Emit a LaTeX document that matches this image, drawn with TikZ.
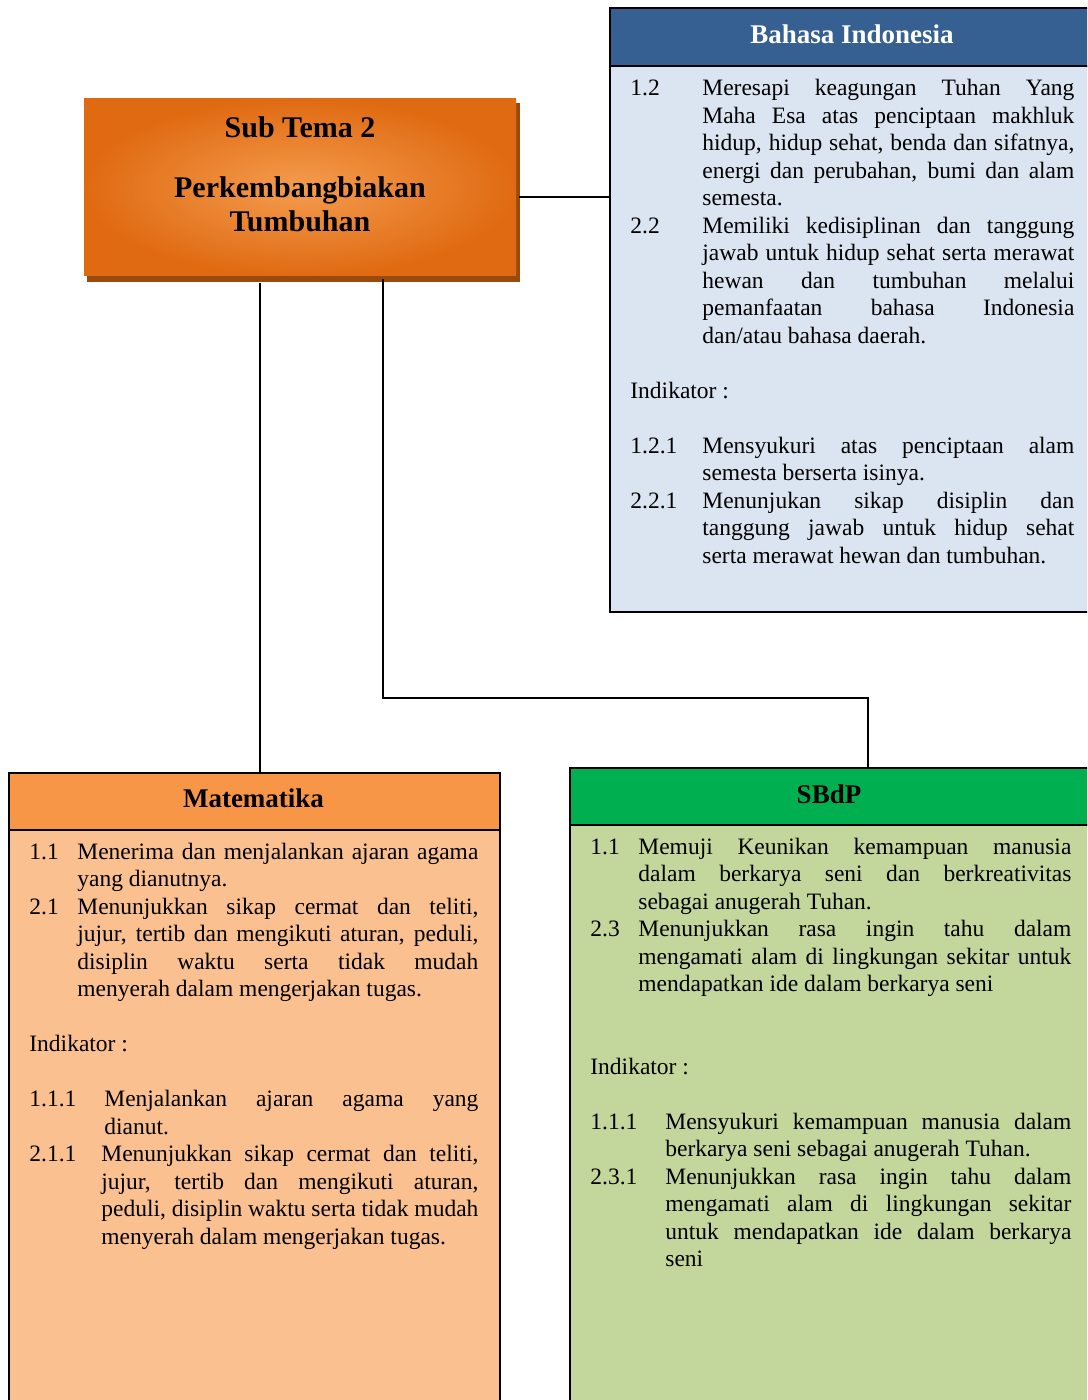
\documentclass[tikz,border=0pt]{standalone}
\usepackage{fontspec}
\setmainfont{Liberation Serif}
\definecolor{biHead}{HTML}{366092}
\definecolor{biBody}{HTML}{DBE5F1}
\definecolor{mtHead}{HTML}{F79646}
\definecolor{mtBody}{HTML}{FAC090}
\definecolor{sbHead}{HTML}{00B050}
\definecolor{sbBody}{HTML}{C3D69B}
\definecolor{subIn}{HTML}{F49C4E}
\definecolor{subOut}{HTML}{E06A12}
\definecolor{subShadow}{HTML}{9A4A0C}
\newlength{\colw}
% justified line: number column of width #1, then text stretched to the column edge
\newcommand{\JL}[3]{\hbox to \colw{\hbox to #1{#2\hfil}\hbox to \dimexpr\colw-#1\relax{\spaceskip=0.25em plus 3em minus 0.08em #3}}}
% last line of a paragraph: left aligned
\newcommand{\LL}[3]{\hbox to \colw{\hbox to #1{#2\hfil}#3\hfil}}
\newcommand{\EL}{\hbox to \colw{\strut\hfil}}
\tikzset{
  panel/.style={draw=black, line width=1pt, inner sep=0pt, anchor=north west},
  headtext/.style={font=\fontsize{13.5}{16}\selectfont\bfseries},
  bodytext/.style={anchor=base west, inner sep=0pt, font=\fontsize{11.75}{13.75}\selectfont},
  conn/.style={draw=black, line width=0.9pt},
  subtitle/.style={anchor=base, inner sep=0pt, font=\fontsize{15}{18}\selectfont\bfseries}
}
\begin{document}
\begin{tikzpicture}[x=0.5pt,y=-0.5pt]
\clip (0,0) rectangle (1087,1400);
\fill[white] (0,0) rectangle (1087,1400);

% central topic box with drop shadow
\fill[subShadow] (87,103) rectangle (520,282);
\node[shade, inner color=subIn, outer color=subOut, inner sep=0pt,
      minimum width=216pt, minimum height=88.5pt] (sub) at (300,187.5) {};
\node[subtitle] (subA) at (300,138) {Sub Tema 2};
\node[subtitle] (subB) at (300,198) {Perkembangbiakan};
\node[subtitle] (subC) at (300,232) {Tumbuhan};

% Bahasa Indonesia panel
\node[panel, fill=biBody, minimum width=241pt, minimum height=273pt] (bib) at (609,65) {};
\node[panel, fill=biHead, minimum width=241pt, minimum height=29pt] (bih) at (609,7) {};
\node[headtext, text=white, anchor=base] (bit) at (852,44) {Bahasa Indonesia};
\node[bodytext] (bitx) at (630,96) {\setlength{\colw}{222pt}\vtop{\baselineskip=13.75pt
\JL{36pt}{1.2}{Meresapi keagungan Tuhan Yang}
\JL{36pt}{}{Maha Esa atas penciptaan makhluk}
\JL{36pt}{}{hidup, hidup sehat, benda dan sifatnya,}
\JL{36pt}{}{energi dan perubahan, bumi dan alam}
\LL{36pt}{}{semesta.}
\JL{36pt}{2.2}{Memiliki kedisiplinan dan tanggung}
\JL{36pt}{}{jawab untuk hidup sehat serta merawat}
\JL{36pt}{}{hewan dan tumbuhan melalui}
\JL{36pt}{}{pemanfaatan bahasa Indonesia}
\LL{36pt}{}{dan/atau bahasa daerah.}
\EL
\LL{0pt}{}{Indikator :}
\EL
\JL{36pt}{1.2.1}{Mensyukuri atas penciptaan alam}
\LL{36pt}{}{semesta berserta isinya.}
\JL{36pt}{2.2.1}{Menunjukan sikap disiplin dan}
\JL{36pt}{}{tanggung jawab untuk hidup sehat}
\LL{36pt}{}{serta merawat hewan dan tumbuhan.}}};

% Matematika panel
\node[panel, fill=mtBody, minimum width=245.5pt, minimum height=292pt] (mtb) at (8,829) {};
\node[panel, fill=mtHead, minimum width=245.5pt, minimum height=28.5pt] (mth) at (8,772) {};
\node[headtext, anchor=base] (mtt) at (253.5,807) {Matematika};
\node[bodytext] (mttx) at (29,859) {\setlength{\colw}{224.5pt}\vtop{\baselineskip=13.75pt
\JL{24pt}{1.1}{Menerima dan menjalankan ajaran agama}
\LL{24pt}{}{yang dianutnya.}
\JL{24pt}{2.1}{Menunjukkan sikap cermat dan teliti,}
\JL{24pt}{}{jujur, tertib dan mengikuti aturan, peduli,}
\JL{24pt}{}{disiplin waktu serta tidak mudah}
\LL{24pt}{}{menyerah dalam mengerjakan tugas.}
\EL
\LL{0pt}{}{Indikator :}
\EL
\JL{37.5pt}{1.1.1}{Menjalankan ajaran agama yang}
\LL{37.5pt}{}{dianut.}
\JL{36pt}{2.1.1}{Menunjukkan sikap cermat dan teliti,}
\JL{36pt}{}{jujur, tertib dan mengikuti aturan,}
\JL{36pt}{}{peduli, disiplin waktu serta tidak mudah}
\LL{36pt}{}{menyerah dalam mengerjakan tugas.}}};

% SBdP panel
\node[panel, fill=sbBody, minimum width=263pt, minimum height=294pt] (sbb) at (569,824) {};
\node[panel, fill=sbHead, minimum width=263pt, minimum height=28.5pt] (sbh) at (569,767) {};
\node[headtext, anchor=base] (sbt) at (829,803) {SBdP};
\node[bodytext] (sbtx) at (590,854) {\setlength{\colw}{240.5pt}\vtop{\baselineskip=13.75pt
\JL{24pt}{1.1}{Memuji Keunikan kemampuan manusia}
\JL{24pt}{}{dalam berkarya seni dan berkreativitas}
\LL{24pt}{}{sebagai anugerah Tuhan.}
\JL{24pt}{2.3}{Menunjukkan rasa ingin tahu dalam}
\JL{24pt}{}{mengamati alam di lingkungan sekitar untuk}
\LL{24pt}{}{mendapatkan ide dalam berkarya seni}
\EL
\EL
\LL{0pt}{}{Indikator :}
\EL
\JL{37.5pt}{1.1.1}{Mensyukuri kemampuan manusia dalam}
\LL{37.5pt}{}{berkarya seni sebagai anugerah Tuhan.}
\JL{37.5pt}{2.3.1}{Menunjukkan rasa ingin tahu dalam}
\JL{37.5pt}{}{mengamati alam di lingkungan sekitar}
\JL{37.5pt}{}{untuk mendapatkan ide dalam berkarya}
\LL{37.5pt}{}{seni}}};

% connectors
\coordinate (pBI) at (519,197);
\draw[conn] (pBI) -- (pBI -| bih.west);
\coordinate (pMT) at (260,283);
\draw[conn] (pMT) -- (pMT |- mth.north);
\coordinate (pSB) at (383,279);
\coordinate (kSB) at (868,698);
\draw[conn] (pSB) |- (kSB) -- (kSB |- sbh.north);
\end{tikzpicture}
\end{document}
